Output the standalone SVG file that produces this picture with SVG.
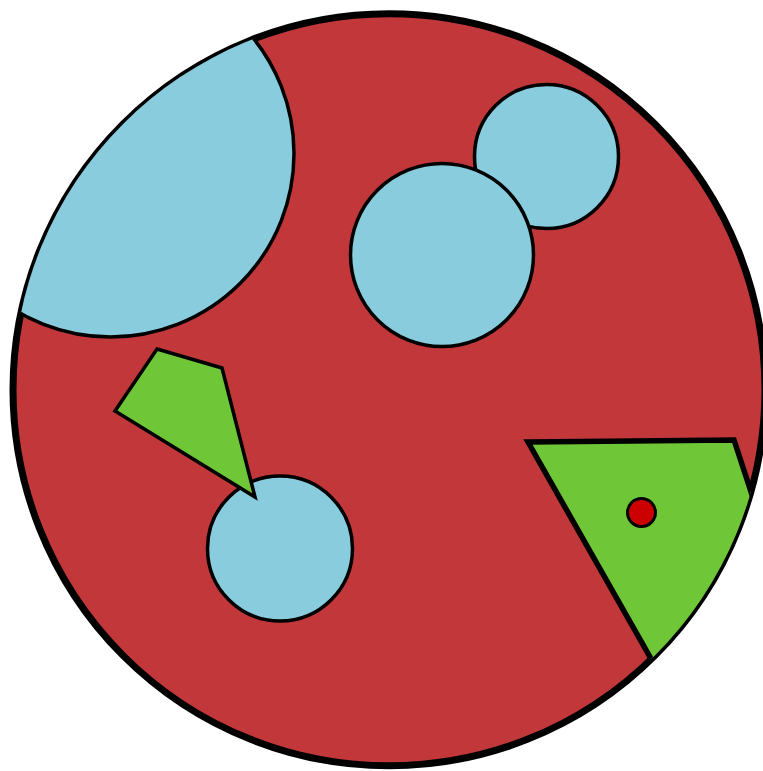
<svg xmlns="http://www.w3.org/2000/svg" width="763" height="771" viewBox="0 0 763 771">
  <style>
    .outer { fill: #C1373A; stroke: #000; stroke-width: 7; }
    .blue { fill: #88CCDD; stroke: #000; stroke-width: 3.5; }
    .green { fill: #6FC738; stroke: #000; stroke-width: 3.5; stroke-linejoin: miter; }
    .green-thick { fill: #6FC738; stroke: #000; stroke-width: 5.5; stroke-linejoin: miter; }
    .dot { fill: #CC0000; stroke: #000; stroke-width: 3; }
  </style>
  <defs>
    <clipPath id="inside">
      <circle cx="389" cy="389.75" r="376"/>
    </clipPath>
  </defs>
  <rect width="763" height="771" fill="#FFFFFF"/>
  <g id="disc">
    <circle class="outer" cx="389" cy="389.75" r="376"/>
  </g>
  <g clip-path="url(#inside)">
    <g id="blue-large-topleft">
      <circle class="blue" cx="110.5" cy="153.5" r="183.5"/>
    </g>
    <g id="blue-small-topright">
      <circle class="blue" cx="546.5" cy="156.5" r="72"/>
    </g>
    <g id="blue-middle">
      <circle class="blue" cx="442" cy="255" r="91.5"/>
    </g>
    <g id="blue-bottom">
      <circle class="blue" cx="280" cy="548.5" r="72.5"/>
    </g>
    <g id="green-left">
      <polygon class="green" points="157,349 222,368 255,497 115,411"/>
    </g>
    <g id="green-right">
      <polygon class="green-thick" points="528,442 734,440 775,565 780,760 700,745"/>
    </g>
    <g id="red-dot">
      <circle class="dot" cx="641.5" cy="512.5" r="14"/>
    </g>
  </g>
  <g id="connectors"/>
</svg>
